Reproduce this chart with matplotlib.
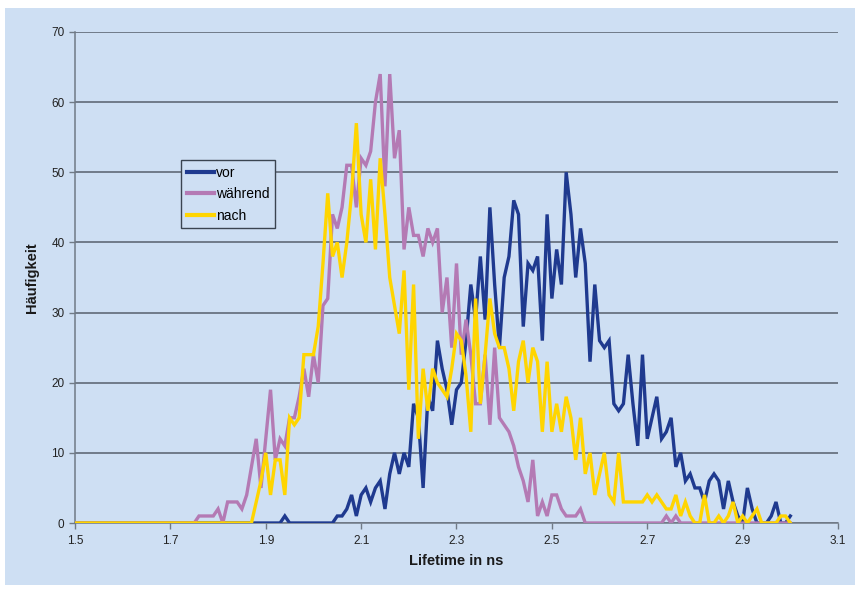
import numpy as np
import matplotlib
matplotlib.use("Agg")
import matplotlib.pyplot as plt
from matplotlib.patches import Rectangle

# ---- data -------------------------------------------------------------
lifetime = np.round(np.arange(150, 301) / 100.0, 2)   # 1.50 ... 3.00 ns bins

vor = ([0] * 44 + [1] + [0] * 10 +
       [1, 1, 2, 4, 1, 4, 5, 3, 5, 6,
        2, 7, 10, 7, 10, 8, 17, 15, 5, 18,
        16, 26, 22, 19, 14, 19, 20, 26, 34, 29,
        38, 29, 45, 34, 25, 35, 38, 46, 44, 28,
        37, 36, 38, 26, 44, 32, 39, 34, 50, 44,
        35, 42, 37, 23, 34, 26, 25, 26, 17, 16,
        17, 24, 17, 11, 24, 12, 15, 18, 12, 13,
        15, 8, 10, 6, 7, 5, 5, 3, 6, 7,
        6, 2, 6, 3, 1, 0, 5, 2, 0, 0,
        0, 1, 3, 0, 0, 1])

waehrend = ([0] * 26 +
            [1, 1, 1, 1, 2, 0, 3, 3, 3, 2,
             4, 8, 12, 5, 12, 19, 9, 12, 11, 15,
             15, 18, 22, 18, 24, 20, 31, 32, 44, 42,
             45, 51, 51, 45, 52, 51, 53, 60, 64, 48,
             64, 52, 56, 39, 45, 41, 41, 38, 42, 40,
             42, 30, 35, 25, 37, 24, 29, 24, 17, 17,
             24, 14, 25, 15, 14, 13, 11, 8, 6, 3,
             9, 1, 3, 1, 4, 4, 2, 1, 1, 1,
             2, 0] +
            [0] * 16 + [1, 0, 1] + [0] * 24)

nach = ([0] * 38 +
        [3, 6, 10, 4, 9, 9, 4, 15, 14, 15,
         24, 24, 24, 28, 37, 47, 38, 40, 35, 40,
         47, 57, 44, 40, 49, 39, 52, 44, 35, 31,
         27, 36, 19, 34, 12, 22, 16, 22, 20, 19,
         18, 22, 27, 26, 21, 13, 32, 17, 24, 32,
         27, 25, 25, 22, 16, 23, 26, 20, 25, 23,
         13, 23, 13, 17, 13, 18, 15, 9, 15, 7,
         10, 4, 7, 10, 4, 3, 10, 3, 3, 3,
         3, 3, 4, 3, 4, 3, 2, 2, 4, 1,
         3, 1, 0, 0, 4, 0, 0, 1, 0, 1,
         3, 0, 1, 0, 1, 2, 0, 0, 0, 0,
         1, 1, 0])

series_names = ["vor", "während", "nach"]
series_values = [vor, waehrend, nach]
series_colors = ["#1f3a8f", "#b47ab4", "#ffd500"]

x_ticks = [1.5, 1.7, 1.9, 2.1, 2.3, 2.5, 2.7, 2.9, 3.1]
y_ticks = [0, 10, 20, 30, 40, 50, 60, 70]

# ---- figure -------------------------------------------------------------
plt.rcParams["font.family"] = ["Liberation Sans", "DejaVu Sans"]
W, H = 859, 589
fig = plt.figure(figsize=(W / 100, H / 100), dpi=100, facecolor="white")
bg = "#cedff3"
fig.patches.append(Rectangle((5 / W, 4 / H), 850 / W, (H - 12) / H,
                             transform=fig.transFigure, facecolor=bg,
                             edgecolor="none", zorder=-5))

ax = fig.add_axes([75 / W, (H - 523) / H, (838 - 75) / W, (523 - 32) / H])
ax.set_facecolor(bg)

for name, vals, col in zip(series_names, series_values, series_colors):
    ax.plot(lifetime, vals, color=col, lw=2.4, label=name,
            solid_joinstyle="miter", zorder=3)

ax.set_xlim(1.5, 3.1)
ax.set_ylim(0, 70)
ax.set_xticks(x_ticks)
ax.set_xticklabels([f"{t:.1f}" for t in x_ticks])
ax.set_yticks(y_ticks)
ax.yaxis.grid(True, color="#56606c", lw=1.1, zorder=1)
ax.set_axisbelow(True)
for s in ["top", "right"]:
    ax.spines[s].set_visible(False)
for s in ["left", "bottom"]:
    ax.spines[s].set_color("#707a86")
    ax.spines[s].set_linewidth(1.1)
ax.tick_params(axis="both", colors="#707a86", labelcolor="#222222",
               labelsize=8.5, length=4, width=1)
ax.tick_params(axis="x", pad=5)

ax.set_xlabel("Lifetime in ns", fontsize=10.5, fontweight="bold",
              color="#1a1a1a", labelpad=5)
ax.set_ylabel("Häufigkeit", fontsize=10.5, fontweight="bold",
              color="#1a1a1a", labelpad=9)

leg = ax.legend(loc="upper left", bbox_to_anchor=((181 - 75) / (838 - 75),
                                                  (523 - 160) / (523 - 32)),
                fontsize=10, frameon=True, fancybox=False, handlelength=2.0,
                handletextpad=0.15, borderpad=0.4, labelspacing=0.55,
                borderaxespad=0)
leg.get_frame().set_edgecolor("#3a4450")
leg.get_frame().set_facecolor(bg)
leg.get_frame().set_linewidth(1.0)
leg.get_frame().set_alpha(1)
for line in leg.get_lines():
    line.set_linewidth(3)

fig.savefig("out.png", dpi=100, facecolor="white")
